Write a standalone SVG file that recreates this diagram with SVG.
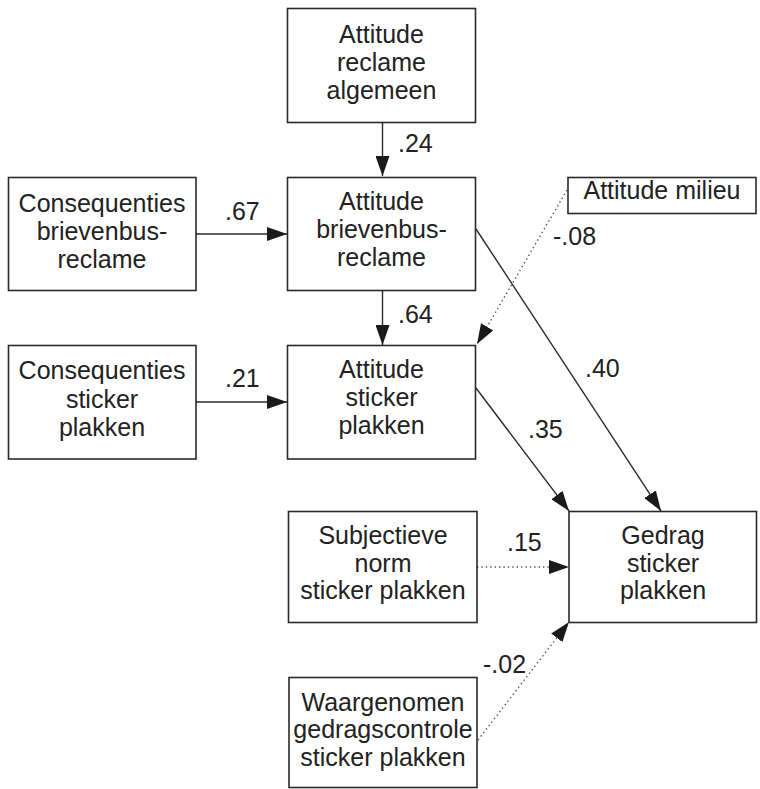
<svg xmlns="http://www.w3.org/2000/svg" width="760" height="789" viewBox="0 0 760 789">
<defs>
<style>
.box{fill:#fff;stroke:#2a2a2a;stroke-width:1.6}
.t{font-family:"Liberation Sans",Arial,sans-serif;font-size:25px;fill:#222;text-anchor:middle}
.lbl{font-family:"Liberation Sans",Arial,sans-serif;font-size:25px;fill:#222}
.ln{stroke:#2a2a2a;stroke-width:1.4;fill:none}
.dot{stroke:#555;stroke-width:1.4;stroke-dasharray:1.4 3;fill:none}
</style>
<marker id="ah" markerUnits="userSpaceOnUse" markerWidth="22" markerHeight="14" refX="20" refY="7" orient="auto" viewBox="0 0 22 14">
<path d="M0,0 L20,7 L0,14 z" fill="#1a1a1a"/>
</marker>
</defs>
<rect width="760" height="789" fill="#fff"/>
<g id="connectors">
<line class="ln" x1="382.5" y1="123" x2="382.5" y2="176" marker-end="url(#ah)"/>
<line class="ln" x1="382.5" y1="290" x2="382.5" y2="345" marker-end="url(#ah)"/>
<line class="ln" x1="196" y1="234" x2="287" y2="234" marker-end="url(#ah)"/>
<line class="ln" x1="196" y1="402" x2="287" y2="402" marker-end="url(#ah)"/>
<line class="dot" x1="567" y1="190" x2="477" y2="344" marker-end="url(#ah)"/>
<line class="ln" x1="476" y1="229" x2="661" y2="511" marker-end="url(#ah)"/>
<line class="ln" x1="476" y1="388" x2="569" y2="511" marker-end="url(#ah)"/>
<line class="dot" x1="477" y1="567" x2="569" y2="567" marker-end="url(#ah)"/>
<line class="dot" x1="478" y1="740" x2="569" y2="622" marker-end="url(#ah)"/>
<text class="lbl" x="398" y="152">.24</text>
<text class="lbl" x="225" y="220">.67</text>
<text class="lbl" x="398" y="323">.64</text>
<text class="lbl" x="553" y="245">-.08</text>
<text class="lbl" x="225" y="387">.21</text>
<text class="lbl" x="585" y="377">.40</text>
<text class="lbl" x="528" y="438">.35</text>
<text class="lbl" x="507" y="551">.15</text>
<text class="lbl" x="483" y="673">-.02</text>
</g>
<g id="attitude-reclame-algemeen">
<rect class="box" x="287.5" y="8.5" width="188" height="114"/>
<text class="t" x="381.5" y="43">Attitude</text>
<text class="t" x="381.5" y="71">reclame</text>
<text class="t" x="381.5" y="99">algemeen</text>
</g>
<g id="consequenties-brievenbus">
<rect class="box" x="8.5" y="177.5" width="187.5" height="113"/>
<text class="t" x="102" y="212">Consequenties</text>
<text class="t" x="102" y="240">brievenbus-</text>
<text class="t" x="102" y="268">reclame</text>
</g>
<g id="attitude-brievenbus">
<rect class="box" x="287.5" y="177.5" width="188" height="113"/>
<text class="t" x="381.5" y="210">Attitude</text>
<text class="t" x="381.5" y="238">brievenbus-</text>
<text class="t" x="381.5" y="266">reclame</text>
</g>
<g id="attitude-milieu">
<rect class="box" x="568" y="177.5" width="188" height="36"/>
<text class="t" x="662" y="199">Attitude milieu</text>
</g>
<g id="consequenties-sticker">
<rect class="box" x="8.5" y="345.5" width="187.5" height="113.5"/>
<text class="t" x="102" y="379">Consequenties</text>
<text class="t" x="102" y="408">sticker</text>
<text class="t" x="102" y="436">plakken</text>
</g>
<g id="attitude-sticker">
<rect class="box" x="287.5" y="345.5" width="188" height="113.5"/>
<text class="t" x="381.5" y="378">Attitude</text>
<text class="t" x="381.5" y="406">sticker</text>
<text class="t" x="381.5" y="434">plakken</text>
</g>
<g id="subjectieve-norm">
<rect class="box" x="288.5" y="511.5" width="188.5" height="111"/>
<text class="t" x="383" y="544">Subjectieve</text>
<text class="t" x="383" y="572">norm</text>
<text class="t" x="383" y="599">sticker plakken</text>
</g>
<g id="gedrag">
<rect class="box" x="569" y="511.5" width="187.5" height="111"/>
<text class="t" x="663" y="544">Gedrag</text>
<text class="t" x="663" y="572">sticker</text>
<text class="t" x="663" y="599">plakken</text>
</g>
<g id="waargenomen">
<rect class="box" x="289" y="677.5" width="188" height="110"/>
<text class="t" x="383" y="711">Waargenomen</text>
<text class="t" x="383" y="738">gedragscontrole</text>
<text class="t" x="383" y="766">sticker plakken</text>
</g>
</svg>
